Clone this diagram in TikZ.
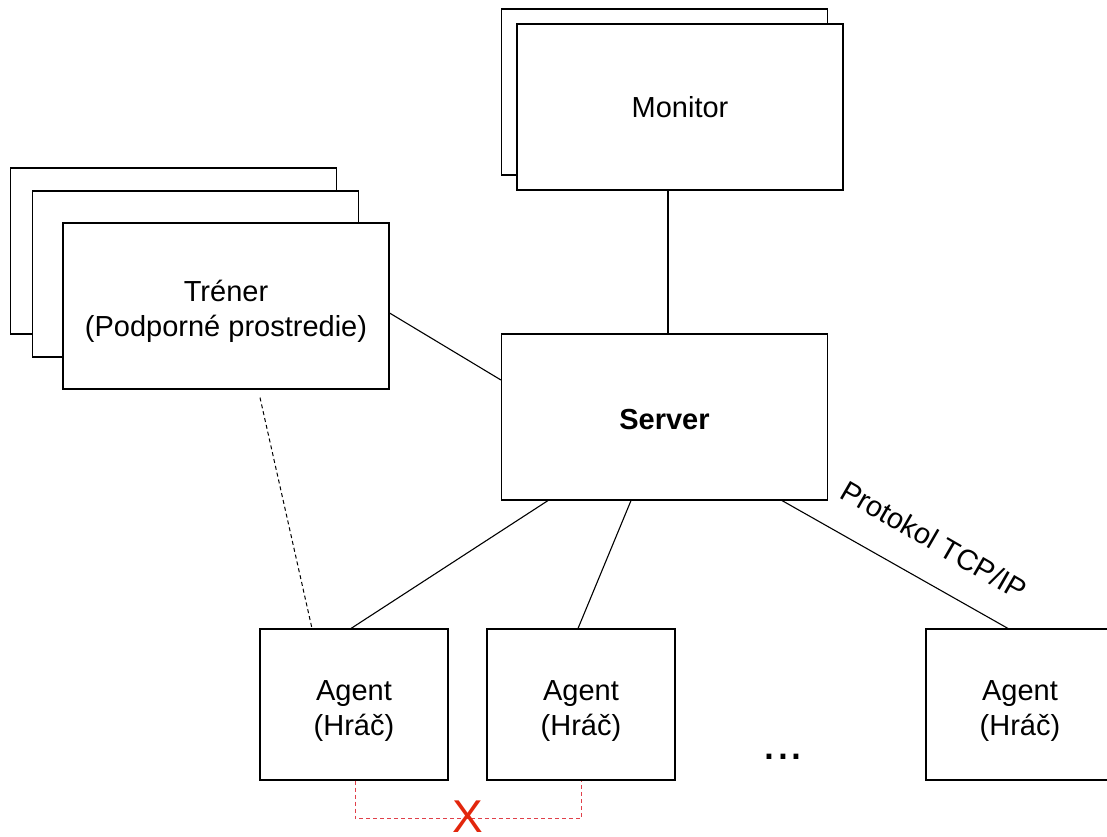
\documentclass[tikz,border=0pt]{standalone}
\usepackage{fontspec}
\setmainfont{Liberation Sans}
\usetikzlibrary{calc}
\definecolor{xred}{HTML}{E2260C}
\definecolor{lred}{HTML}{E0404A}
\newcommand{\twolines}[2]{\raisebox{-12.25pt}[0pt][0pt]{\begin{tabular}{@{}c@{}}#1\\#2\end{tabular}}}
\begin{document}
\begin{tikzpicture}[x=1pt,y=-1pt,
  box/.style={draw=black,line width=1.1pt,fill=white,inner sep=0pt,
    font=\fontsize{29}{35}\selectfont},
  big/.style={box,minimum width=326pt,minimum height=166pt},
  agentbox/.style={box,minimum width=188pt,minimum height=151pt},
  conn/.style={line width=1.1pt},
  dconn/.style={line width=1pt,dash pattern=on 4pt off 3pt},
  rconn/.style={line width=1pt,draw=lred,dash pattern=on 4pt off 3pt}]
\useasboundingbox (0,0) rectangle (1107,836);
\node[big] (monb) at (664.5,92) {};
\node[big] (mon) at (680,107) {Monitor};
\node[big] (trb1) at (173.5,251) {};
\node[big] (trb2) at (195.5,274) {};
\node[big] (tr) at (226,306) {\twolines{Tréner}{(Podporné prostredie)}};
\node[big] (server) at (664.5,417) {\raisebox{-12.4pt}[0pt][0pt]{\textbf{Server}}};
\node[agentbox] (a1) at (354,704.5) {\twolines{Agent}{(Hráč)}};
\node[agentbox] (a2) at (581,704.5) {\twolines{Agent}{(Hráč)}};
\begin{scope}
\clip (0,0) rectangle (1107,836);
\node[agentbox] (a3) at (1020,704.5) {\twolines{Agent}{(Hráč)}};
\end{scope}
\draw[conn] ($(server.north)+(3.5,0)$) -- ($(mon.south)+(-12,0)$);
\draw[conn] ($(tr.east)+(0,7)$) -- ($(server.west)+(0,-37)$);
\draw[conn] ($(server.south)+(-116.5,0)$) -- ($(a1.north)+(-3,0)$);
\draw[conn] ($(server.south)+(-33.5,0)$) -- ($(a2.north)+(-3,0)$);
\draw[conn] ($(server.south)+(117.5,0)$) -- ($(a3.north)+(-12,0)$);
\draw[dconn] ($(tr.south)+(34,8)$) -- ($(a1.north)+(-42,0)$);
\coordinate (rc) at ($(a1.south)+(1,38)$);
\draw[rconn] ($(a1.south)+(1,0)$) -- (rc) -| (a2.south);
\node[text=xred,inner sep=0pt,font=\fontsize{46}{46}\selectfont] (x) at (468,817) {X};
\node[inner sep=0pt,anchor=base,font=\fontsize{50}{50}\selectfont] (dots) at (783,759) {...};
\node[inner sep=0pt,rotate=-30,font=\fontsize{29}{35}\selectfont] (proto) at (934,540) {Protokol TCP/IP};
\end{tikzpicture}
\end{document}
